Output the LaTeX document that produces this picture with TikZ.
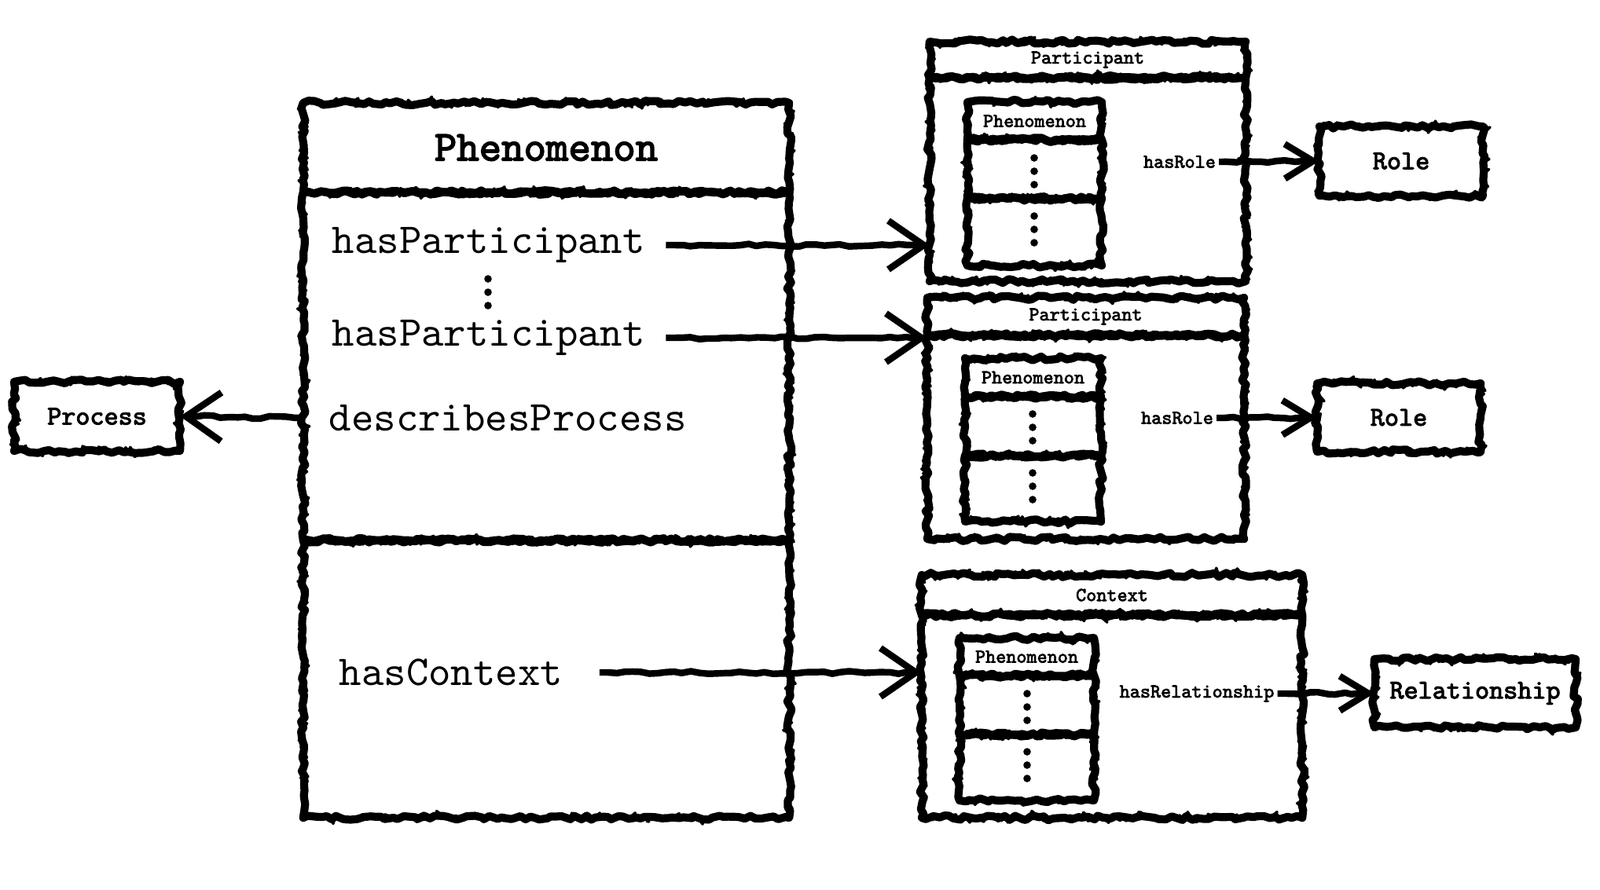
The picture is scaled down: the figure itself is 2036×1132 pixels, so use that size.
\documentclass[tikz,border=0pt]{standalone}
\usepackage{fontspec}
\setmonofont{lmmono10-regular.otf}[BoldFont=lmmono10-regular.otf, BoldFeatures={FakeBold=3}]
\usepackage{tikz}
\usetikzlibrary{arrows.meta, decorations.pathmorphing, positioning}
\tikzset{
  rough/.style={decorate, decoration={random steps, segment length=2pt, amplitude=0.8pt}},
  box/.style={draw, line width=2.9pt, line join=round, rough, outer sep=0pt, inner sep=0pt,
    preaction={draw, line width=1pt, decorate, decoration={random steps, segment length=1.2pt, amplitude=1.8pt}}},
  bigtext/.style={font=\ttfamily\fontsize{15.4}{18}\selectfont, inner sep=0pt, anchor=west},
  headtext/.style={font=\ttfamily\bfseries\fontsize{15.4}{18}\selectfont},
  boxtext/.style={font=\ttfamily\bfseries\fontsize{9.8}{11}\selectfont},
  smalltext/.style={font=\ttfamily\bfseries\fontsize{7.1}{8.5}\selectfont, inner sep=1pt},
  arr/.style={line width=2.4pt, line join=round, decorate,
    decoration={random steps, segment length=3pt, amplitude=0.5pt, pre length=3pt, post length=6pt}},
  bigtip/.style={-{Straight Barb[length=0.45cm, width=0.62cm, line width=2.4pt]}},
  smalltip/.style={-{Straight Barb[length=0.36cm, width=0.44cm, line width=2.4pt]}}
}
\begin{document}
\begin{tikzpicture}[x=0.01cm, y=-0.01cm]
		\useasboundingbox (0,0) rectangle (2036,1132);
		
		% main box
		\node[box, headtext, minimum width=6.18cm, minimum height=1.14cm] (phenhead) at (695,188) {Phenomenon};
		\node[box, minimum width=6.18cm, minimum height=4.43cm] (phenbody) at (695,466.5) {};
		\node[box, minimum width=6.18cm, minimum height=3.53cm] (phenlow) at (695,864.5) {};
		
		\node[bigtext] (hasPa) at (422,312) {hasParticipant};
		\node[bigtext] (hasPb) at (422,430) {hasParticipant};
		\node[bigtext] (desc) at (418,532) {describesProcess};
		\node[bigtext] (hasCtx) at (431,856) {hasContext};
		
		\node[box, boxtext, minimum width=2.11cm, minimum height=0.88cm] (proc) at (123.5,530) {Process};
		
		% participant 1
		\node[box, smalltext, minimum width=4.02cm, minimum height=0.46cm] (parthead1) at (1384,76) {Participant};
		\node[box, minimum width=4.02cm, minimum height=2.59cm] (partbody1) at (1384,228.5) {};
		\node[box, smalltext, minimum width=1.71cm, minimum height=0.48cm] (inhead1) at (1316.5,154) {Phenomenon};
		\node[box, minimum width=1.71cm, minimum height=0.75cm] (inmid1) at (1316.5,215.5) {};
		\node[box, minimum width=1.71cm, minimum height=0.85cm] (inlow1) at (1316.5,295.5) {};
		\node[smalltext] (role1txt) at (1501,206) {hasRole};
		\node[box, boxtext, minimum width=2.08cm, minimum height=0.88cm] (role1) at (1783,205) {Role};
		
		% participant 2
		\node[box, smalltext, minimum width=4.03cm, minimum height=0.48cm] (parthead2) at (1381.5,403) {Participant};
		\node[box, minimum width=4.03cm, minimum height=2.59cm] (partbody2) at (1381.5,556.5) {};
		\node[box, smalltext, minimum width=1.73cm, minimum height=0.49cm] (inhead2) at (1314.5,480.5) {Phenomenon};
		\node[box, minimum width=1.73cm, minimum height=0.75cm] (inmid2) at (1314.5,542.5) {};
		\node[box, minimum width=1.73cm, minimum height=0.84cm] (inlow2) at (1314.5,622) {};
		\node[smalltext] (role2txt) at (1498,532) {hasRole};
		\node[box, boxtext, minimum width=2.08cm, minimum height=0.87cm] (role2) at (1780,531.5) {Role};
		
		% context
		\node[box, smalltext, minimum width=4.84cm, minimum height=0.51cm] (ctxhead) at (1415,757.5) {Context};
		\node[box, minimum width=4.84cm, minimum height=2.58cm] (ctxbody) at (1415,912) {};
		\node[box, smalltext, minimum width=1.71cm, minimum height=0.48cm] (inhead3) at (1306.5,836) {Phenomenon};
		\node[box, minimum width=1.71cm, minimum height=0.75cm] (inmid3) at (1306.5,897.5) {};
		\node[box, minimum width=1.71cm, minimum height=0.84cm] (inlow3) at (1306.5,977) {};
		\node[smalltext] (reltxt) at (1523,883) {hasRelationship};
		\node[box, boxtext, minimum width=2.56cm, minimum height=0.87cm] (rel) at (1877,882.5) {Relationship};
		
		% dots
		\foreach \x/\y in {621/355, 1316/201, 1316/275, 1314/527, 1314/602, 1307/883, 1307/957}
		  \foreach \d in {0,17,34}
		    \fill (\x,\y+\d) circle (0.048cm);
		
		% arrows
		\draw[arr, bigtip] ([xshift=0.26cm]hasPa.east) -- (partbody1.west |- hasPa.east);
		\draw[arr, bigtip] ([xshift=0.26cm]hasPb.east) -- (partbody2.west |- hasPb.east);
		\draw[arr, bigtip] ([xshift=0.46cm]hasCtx.east) -- (ctxbody.west |- hasCtx.east);
		\draw[arr, bigtip] (phenbody.west |- desc.west) -- (proc.east);
		\draw[arr, smalltip] (role1txt.east) -- (role1.west);
		\draw[arr, smalltip] (role2txt.east) -- (role2.west);
		\draw[arr, smalltip] (reltxt.east) -- (rel.west);
		
\end{tikzpicture}
\end{document}
